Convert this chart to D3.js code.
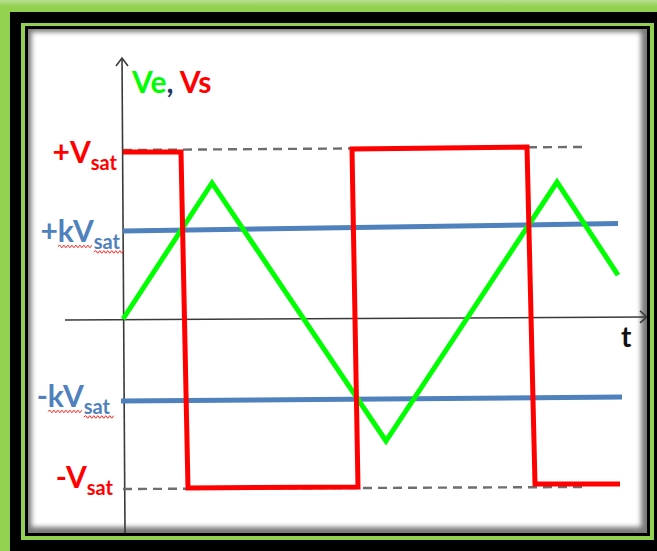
<!DOCTYPE html>
<html><head><meta charset="utf-8">
<script src="https://cdn.jsdelivr.net/npm/d3@7"></script>
<style>
html,body{margin:0;padding:0;background:#92d050;}
svg{display:block;}
</style>
</head><body>
<svg id="chart" width="657" height="551"></svg>
<script>
// Comparator with hysteresis: triangular input Ve and square output Vs.
// Time in arbitrary units, voltages in units of Vsat.
const veTime = [0, 17.8, 52.6, 86.8, 99];
const veVolt = [0, 0.805, -0.722, 0.81, 0.26];

const vsTime = [0, 11.6, 13, 47, 45.8, 80.8, 82.4, 99.4];
const vsVolt = [0.988, 0.988, -1, -0.994, 1.006, 1.018, -0.976, -0.976];

// switching thresholds +kVsat / -kVsat
const kHighTime = [0, 99];
const kHighVolt = [0.521, 0.565];
const kLowTime = [-0.4, 99.8];
const kLowVolt = [-0.485, -0.462];

// saturation guide lines
const satHighTime = [0, 91.8];
const satHighVolt = [1, 1.018];
const satLowTime = [0, 92.8];
const satLowVolt = [-1.006, -0.994];

// axis extents
const tAxisTime = [-11.6, 104.8];
const tAxisVolt = [-0.006, 0.012];
const vAxisTime = [-0.2, 0.4];
const vAxisVolt = [1.544, -1.266];

// level labels on the vertical axis
const levelMain = ["+V", "+kV", "-kV", "-V"];
const levelSub = ["sat", "sat", "sat", "sat"];
const levelVolt = [1, 0.521, -0.485, -1];

const titleParts = ["Ve", ",", " Vs"];
const timeLabel = "t";

// ---------------------------------------------------------------
const svg = d3.select("#chart");
const W = 657, H = 551;
const FONT = "Lato, 'Open Sans', sans-serif";

const x = d3.scaleLinear().domain([0, 100]).range([123, 623]);
const y = d3.scaleLinear().domain([-1, 1]).range([488, 150]);

const defs = svg.append("defs");

// frame: light green outer, black band, thin green line, thin black line
const glow = defs.append("linearGradient").attr("id", "glow")
  .attr("x1", 0).attr("y1", 0).attr("x2", 0).attr("y2", 1);
glow.append("stop").attr("offset", 0).attr("stop-color", "#b7e08f");
glow.append("stop").attr("offset", 0.012).attr("stop-color", "#92d050");
glow.append("stop").attr("offset", 1).attr("stop-color", "#92d050");
svg.append("rect").attr("width", W).attr("height", H).attr("fill", "url(#glow)");
svg.append("rect").attr("x", 10).attr("y", 12).attr("width", 700).attr("height", 600).attr("fill", "#000");
svg.append("rect").attr("x", 21).attr("y", 23).attr("width", 633).attr("height", 517).attr("fill", "#92d050");
svg.append("rect").attr("x", 25).attr("y", 26).attr("width", 625).attr("height", 510).attr("fill", "#000");

// white panel with a soft inner shadow
defs.append("clipPath").attr("id", "panelClip")
  .append("rect").attr("x", 28).attr("y", 29).attr("width", 619).attr("height", 504);
defs.append("filter").attr("id", "soft").attr("x", "-5%").attr("y", "-5%").attr("width", "110%").attr("height", "110%")
  .append("feGaussianBlur").attr("stdDeviation", 2.6);
const panel = svg.append("g").attr("clip-path", "url(#panelClip)");
panel.append("rect").attr("x", 28).attr("y", 29).attr("width", 619).attr("height", 504).attr("fill", "#7a7a7a");
panel.append("rect").attr("x", 31.5).attr("y", 32).attr("width", 609.5).attr("height", 495)
  .attr("fill", "#fff").attr("filter", "url(#soft)");

const plot = svg.append("g").attr("clip-path", "url(#panelClip)");
const line = d3.line().x(d => x(d[0])).y(d => y(d[1]));

// axes with open arrow heads
const axisColor = "#3a3a3a";
plot.append("path").datum(d3.zip(tAxisTime, tAxisVolt)).attr("d", line)
  .attr("fill", "none").attr("stroke", axisColor).attr("stroke-width", 1.6);
plot.append("path").datum(d3.zip(vAxisTime, vAxisVolt)).attr("d", line)
  .attr("fill", "none").attr("stroke", axisColor).attr("stroke-width", 1.6);
{
  const tx = x(tAxisTime[1]), ty = y(tAxisVolt[1]);
  plot.append("path").attr("d", `M${tx - 7},${ty - 6}L${tx},${ty}L${tx - 7},${ty + 6}`)
    .attr("fill", "none").attr("stroke", axisColor).attr("stroke-width", 1.6);
  const vx = x(vAxisTime[0]), vy = y(vAxisVolt[0]);
  plot.append("path").attr("d", `M${vx - 6},${vy + 8}L${vx},${vy}L${vx + 6},${vy + 8}`)
    .attr("fill", "none").attr("stroke", axisColor).attr("stroke-width", 1.6);
}

// dashed saturation guides
[[satHighTime, satHighVolt], [satLowTime, satLowVolt]].forEach(([t, v]) => {
  plot.append("path").datum(d3.zip(t, v)).attr("d", line)
    .attr("fill", "none").attr("stroke", "#6e6e6e").attr("stroke-width", 2.4)
    .attr("stroke-dasharray", "9,6");
});

// threshold lines
[[kHighTime, kHighVolt], [kLowTime, kLowVolt]].forEach(([t, v]) => {
  plot.append("path").datum(d3.zip(t, v)).attr("d", line)
    .attr("fill", "none").attr("stroke", "#4f81bd").attr("stroke-width", 5);
});

// input triangle wave
plot.append("path").datum(d3.zip(veTime, veVolt)).attr("d", line)
  .attr("fill", "none").attr("stroke", "#00ff00").attr("stroke-width", 5)
  .attr("stroke-linejoin", "miter");

// output square wave
plot.append("path").datum(d3.zip(vsTime, vsVolt)).attr("d", line)
  .attr("fill", "none").attr("stroke", "#ff0000").attr("stroke-width", 5)
  .attr("stroke-linejoin", "miter");

// title
const titleColors = ["#00ff00", "#1f3864", "#ff0000"];
const title = svg.append("text").attr("x", 132).attr("y", 93)
  .attr("font-family", FONT).attr("font-weight", 700).attr("font-size", 30)
  .attr("xml:space", "preserve").style("white-space", "pre");
title.selectAll("tspan").data(titleParts).join("tspan")
  .text(d => d).attr("fill", (d, i) => titleColors[i]);

// time label
svg.append("text").attr("x", 621).attr("y", 347).text(timeLabel)
  .attr("font-family", FONT).attr("font-weight", 700).attr("font-size", 28).attr("fill", "#111");

// level labels (right aligned against the vertical axis)
const levelColors = ["#ff0000", "#4f81bd", "#4f81bd", "#ff0000"];
const levelPlace = [[117, 13], [120, 11], [110, 6], [113, 0]];
const squiggled = [false, true, true, false];
levelMain.forEach((m, i) => {
  const t = svg.append("text")
    .attr("x", levelPlace[i][0]).attr("y", y(levelVolt[i]) + levelPlace[i][1])
    .attr("text-anchor", "end").attr("font-family", FONT).attr("font-weight", 700)
    .attr("fill", levelColors[i]);
  t.append("tspan").attr("font-size", 30).text(m);
  t.append("tspan").attr("font-size", 20).attr("dy", 7).text(levelSub[i]);
  if (squiggled[i]) {
    const node = t.node();
    const base = y(levelVolt[i]) + levelPlace[i][1];
    const wave = (x0, x1, yy) => {
      let d = `M${x0},${yy}`, up = true;
      for (let xx = x0 + 2; xx <= x1; xx += 2) { d += `L${xx},${yy + (up ? -1.3 : 1.3)}`; up = !up; }
      return d;
    };
    const kStart = node.getStartPositionOfChar(1).x;
    const vEnd = node.getEndPositionOfChar(m.length - 1).x;
    const sStart = node.getStartPositionOfChar(m.length).x;
    const sEnd = node.getEndPositionOfChar(m.length + levelSub[i].length - 1).x;
    [[kStart, vEnd, base + 4.5], [sStart, sEnd + 4, base + 10]].forEach(([a, b, yy]) => {
      svg.append("path").attr("d", wave(a, b, yy)).attr("fill", "none")
        .attr("stroke", "#ff2020").attr("stroke-width", 1);
    });
  }
});
</script>
</body></html>
